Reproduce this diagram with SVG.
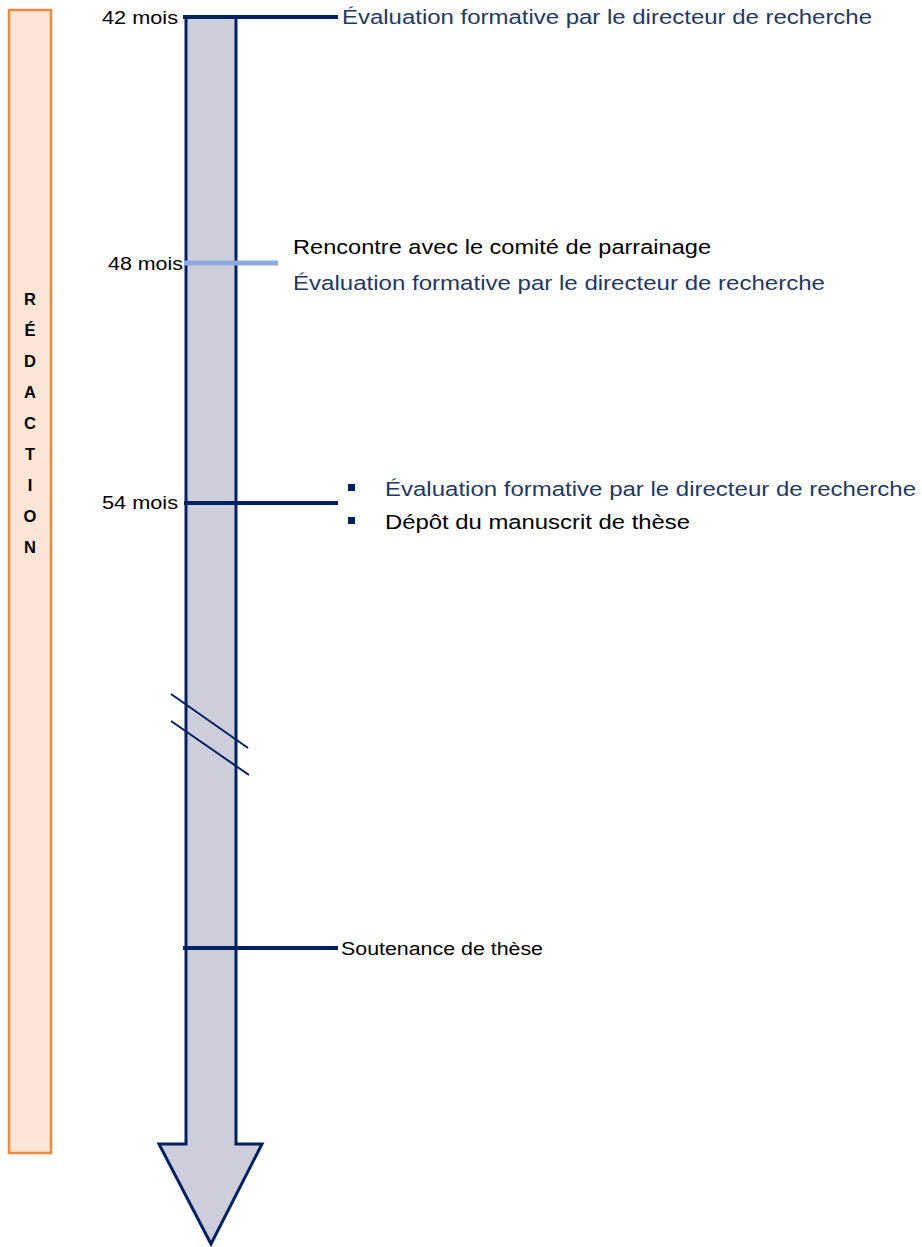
<svg xmlns="http://www.w3.org/2000/svg" width="922" height="1247" viewBox="0 0 922 1247">
<style>
text{font-family:"Liberation Sans",Arial,sans-serif;}
.lbl{font-size:18px;fill:#000;}
.blk{font-size:20.5px;fill:#000;}
.blu{font-size:20.5px;fill:#1F3864;}
.vert{font-size:16.5px;font-weight:bold;fill:#000;text-anchor:middle;}
.tick{stroke:#002060;stroke-width:4;}
.bul{fill:#002060;}
</style>
<rect width="922" height="1247" fill="#fff"/>
<g id="phase">
<rect x="9" y="10" width="42" height="1143" fill="#FBE5D6" stroke="#F08A3C" stroke-width="2.5"/>
<text class="vert" x="30" y="305">R</text>
<text class="vert" x="30" y="336">É</text>
<text class="vert" x="30" y="367">D</text>
<text class="vert" x="30" y="398">A</text>
<text class="vert" x="30" y="429">C</text>
<text class="vert" x="30" y="460">T</text>
<text class="vert" x="30" y="491">I</text>
<text class="vert" x="30" y="522">O</text>
<text class="vert" x="30" y="553">N</text>
</g>
<g id="timeline">
<path d="M186,17 L236,17 L236,1144 L262,1144 L211,1244 L159,1144 L186,1144 Z" fill="#CDCDDC" stroke="#002060" stroke-width="3" stroke-linejoin="miter"/>
</g>
<g id="connectors">
<line class="tick" x1="183" y1="17" x2="338" y2="17"/>
<line x1="184" y1="263" x2="278" y2="263" stroke="#8FAADC" stroke-width="5"/>
<line class="tick" x1="184" y1="503" x2="338" y2="503"/>
<line class="tick" x1="183" y1="948" x2="338" y2="948"/>
<line x1="171" y1="694" x2="248" y2="748" stroke="#002060" stroke-width="2"/>
<line x1="171" y1="721" x2="249" y2="775" stroke="#002060" stroke-width="2"/>
</g>
<g id="m42">
<text class="lbl" x="102" y="24" textLength="76" lengthAdjust="spacingAndGlyphs">42 mois</text>
<text class="blu" x="342" y="24" textLength="530" lengthAdjust="spacingAndGlyphs">Évaluation formative par le directeur de recherche</text>
</g>
<g id="m48">
<text class="lbl" x="108" y="270" textLength="75" lengthAdjust="spacingAndGlyphs">48 mois</text>
<text class="blk" x="293" y="254" textLength="418" lengthAdjust="spacingAndGlyphs">Rencontre avec le comité de parrainage</text>
<text class="blu" x="293" y="290" textLength="532" lengthAdjust="spacingAndGlyphs">Évaluation formative par le directeur de recherche</text>
</g>
<g id="m54">
<text class="lbl" x="102" y="509" textLength="76" lengthAdjust="spacingAndGlyphs">54 mois</text>
<rect class="bul" x="348" y="484" width="7" height="7"/>
<rect class="bul" x="348" y="517" width="7" height="7"/>
<text class="blu" x="385" y="496" textLength="531" lengthAdjust="spacingAndGlyphs">Évaluation formative par le directeur de recherche</text>
<text class="blk" x="385" y="529" textLength="305" lengthAdjust="spacingAndGlyphs">Dépôt du manuscrit de thèse</text>
</g>
<g id="soutenance">
<text class="lbl" x="341" y="955" textLength="202" lengthAdjust="spacingAndGlyphs">Soutenance de thèse</text>
</g>
</svg>
